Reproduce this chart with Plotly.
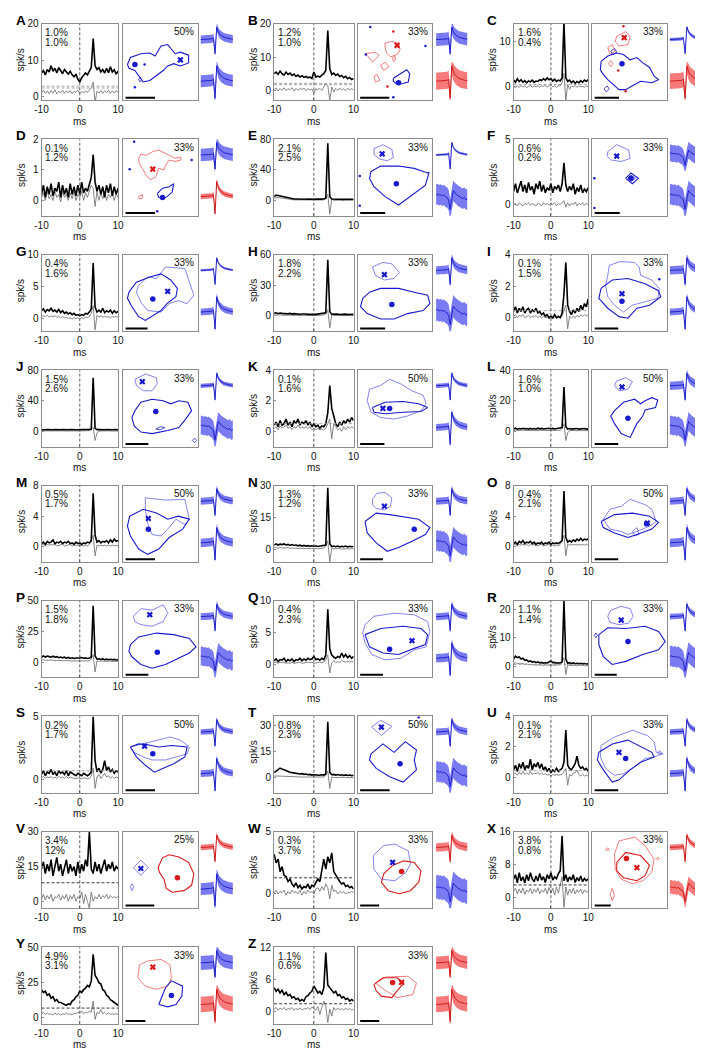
import plotly.graph_objects as go

W, H = 703, 1050

# ---------------- data ----------------
panel_labels = list("ABCDEFGHIJKLMNOPQRSTUVWXYZ")
lag_ms = [-10.0, -9.5, -9.0, -8.5, -8.0, -7.5, -7.0, -6.5, -6.0, -5.5, -5.0, -4.5, -4.0, -3.5,
          -3.0, -2.5, -2.0, -1.5, -1.0, -0.5, 0.0, 0.5, 1.0, 1.5, 2.0, 2.5, 3.0, 3.5, 4.0, 4.5,
          5.0, 5.5, 6.0, 6.5, 7.0, 7.5, 8.0, 8.5, 9.0, 9.5, 10.0]

ccg_A = [6.5,7.2,6.0,7.5,6.8,8.5,7.0,7.8,6.5,8.0,7.2,6.3,7.5,6.8,6.2,7.0,6.0,5.5,6.2,4.8,4.0,5.2,5.8,6.5,6.0,7.0,8.0,16.0,8.5,7.5,8.0,6.8,7.5,6.5,7.8,6.6,8.2,6.8,7.4,6.2,7.0]
null_A = [1.0,1.8,0.9,1.6,0.8,1.7,1.0,1.9,0.8,1.5,1.1,1.8,0.9,1.6,1.0,1.7,0.8,1.5,1.2,1.8,0.9,1.4,1.0,1.6,1.2,1.8,2.5,4.0,-1.5,1.5,1.0,1.7,0.9,1.6,1.1,1.8,0.9,1.6,1.0,1.7,1.2]
ccg_B = [5.0,5.5,4.8,5.8,5.0,4.6,5.5,4.8,5.2,4.5,4.9,4.2,4.6,4.0,4.4,3.9,4.2,3.8,4.0,3.6,5.5,4.0,4.3,4.0,4.6,5.0,6.0,18.0,6.5,4.8,5.2,4.5,4.9,4.2,4.5,3.8,4.2,3.5,3.9,3.3,3.6]
null_B = [0.2,0.7,-0.2,0.6,0.0,0.8,-0.1,0.5,0.2,0.8,-0.2,0.6,0.0,0.5,0.3,0.7,-0.1,0.6,0.1,0.4,-0.8,0.5,0.2,0.6,0.0,1.0,2.0,1.5,-3.0,1.0,-0.5,0.6,0.0,0.7,0.1,0.5,-0.1,0.6,0.2,0.5,0.1]
ccg_C = [1.5,1.0,1.8,1.2,1.6,1.0,1.4,0.9,1.3,1.1,1.5,1.0,1.3,1.2,1.6,1.4,1.8,1.5,2.0,1.6,1.8,1.3,1.7,1.2,1.5,1.3,2.0,14.5,2.0,1.2,1.5,0.9,1.3,0.8,1.2,0.9,1.4,1.0,1.5,1.2,1.6]
null_C = [0.1,-0.2,0.2,-0.1,0.3,0.0,0.2,-0.2,0.1,0.3,-0.1,0.2,0.0,0.3,-0.1,0.2,0.1,0.3,0.0,0.2,0.4,0.0,0.2,-0.1,0.3,0.2,1.0,3.0,-3.0,0.5,-0.5,0.2,0.0,0.3,-0.1,0.2,0.0,0.1,-0.1,0.2,0.0]
ccg_D = [0.2,0.5,0.1,0.45,0.2,0.55,0.15,0.4,0.3,0.6,0.1,0.5,0.2,0.4,0.1,0.55,0.2,0.45,0.15,0.5,0.2,0.6,0.25,0.4,0.3,0.55,0.75,1.5,0.6,0.3,0.5,0.2,0.45,0.1,0.5,0.25,0.55,0.15,0.45,0.2,0.4]
null_D = [0.1,0.25,0.0,0.3,0.05,0.2,0.0,0.3,0.1,0.2,-0.05,0.3,0.1,0.2,0.0,0.25,0.05,0.3,0.0,0.2,0.1,0.3,0.0,0.25,0.1,0.35,0.5,0.4,-0.2,0.3,0.0,0.25,0.05,0.3,0.0,0.2,0.1,0.25,0.0,0.2,0.1]
ccg_E = [5,7,6.5,6,5,4,3.5,3,2.5,2.5,2,2,1.8,2,1.5,1.8,1.5,1.8,1.5,1.7,1.5,1.8,1.5,2,1.8,2.2,3,75,5,2,1.8,1.5,1.8,1.5,1.6,1.4,1.6,1.4,1.5,1.3,1.5]
null_E = [3,4,4,3.5,3,2.5,2,1.5,1.2,1,0.8,0.8,0.7,0.8,0.6,0.7,0.6,0.7,0.5,0.6,0.5,0.6,0.5,0.6,0.5,0.8,2,8,-18,2,0.2,0.5,0.4,0.5,0.3,0.4,0.3,0.4,0.3,0.4,0.3]
ccg_F = [1.0,1.6,0.9,1.4,1.8,1.0,1.5,0.9,1.7,1.1,1.4,0.8,1.6,1.2,1.8,1.0,1.5,0.9,1.3,1.1,1.6,0.9,1.4,1.2,1.5,1.0,1.6,3.2,1.5,1.0,1.4,1.1,1.6,0.8,1.3,1.0,1.5,0.9,1.2,1.0,1.3]
null_F = [0.0,0.1,-0.1,0.15,0.0,-0.1,0.1,0.0,0.15,-0.05,0.1,0.0,-0.1,0.1,0.05,-0.1,0.15,0.0,0.1,-0.05,0.1,0.0,0.15,-0.1,0.1,0.0,0.2,0.3,-0.2,0.15,-0.1,0.1,0.0,0.2,-0.1,0.1,0.0,0.15,-0.05,0.1,0.0]
ccg_G = [1.2,1.5,1.0,1.4,1.2,1.6,1.1,1.3,1.0,1.4,0.9,1.2,0.8,1.0,0.7,0.9,0.6,0.8,0.5,0.6,0.4,0.6,0.5,0.8,0.7,1.0,1.5,8.7,1.8,1.0,1.3,1.0,1.6,0.9,1.2,1.0,1.3,0.8,1.2,0.9,1.1]
null_G = [0.3,0.4,0.3,0.5,0.2,0.4,0.3,0.4,0.2,0.3,0.1,0.3,0.1,0.2,0.0,0.1,-0.1,0.1,0.0,0.1,-0.1,0.1,0.0,0.2,0.1,0.3,0.8,2.0,-1.8,0.5,0.2,0.4,0.2,0.3,0.2,0.3,0.1,0.3,0.2,0.3,0.2]
ccg_H = [2.5,3,2.2,2.8,2.5,2.2,2.6,2,2.4,1.8,2.2,1.8,2,1.6,1.9,1.5,1.8,1.5,1.7,1.4,1.6,1.5,1.8,1.5,1.9,2,3,55,4,1.6,1.8,1.4,1.7,1.3,1.6,1.4,1.7,1.3,1.6,1.4,1.5]
null_H = [0.8,1,0.8,1,0.7,0.8,0.6,0.8,0.5,0.7,0.5,0.6,0.4,0.6,0.4,0.5,0.3,0.5,0.3,0.4,0.3,0.5,0.3,0.5,0.4,0.8,2,6,-12,1.5,0.3,0.5,0.3,0.4,0.3,0.4,0.2,0.4,0.3,0.4,0.3]
ccg_I = [0.4,0.7,0.3,0.6,0.4,0.7,0.3,0.5,0.6,0.3,0.5,0.4,0.6,0.3,0.4,0.2,0.3,0.1,0.2,0.0,0.1,0.0,0.2,0.0,0.1,0.0,0.3,1.5,3.5,0.8,0.4,0.2,0.5,0.3,0.6,0.4,0.8,0.5,0.9,0.7,1.2]
null_I = [0.1,0.2,0.0,0.15,0.1,0.2,0.0,0.1,0.15,0.0,0.1,0.05,0.15,0.0,0.1,0.0,0.1,0.0,0.05,-0.05,0.0,-0.05,0.05,0.0,0.0,0.05,0.1,0.5,0.8,-0.7,0.1,0.0,0.1,0.0,0.15,0.05,0.2,0.1,0.2,0.1,0.2]
ccg_J = [2,2.5,2,2.4,2.1,2.5,2,2.3,2,2.4,2,2.2,1.9,2.3,2,2.2,1.9,2.2,2,2.1,2,2.2,2,2.3,2.1,2.5,3,70,4,2.2,2.3,2,2.4,2,2.2,1.9,2.3,2,2.2,1.9,2.1]
null_J = [0.5,0.7,0.5,0.6,0.4,0.6,0.5,0.7,0.4,0.6,0.5,0.6,0.4,0.6,0.5,0.6,0.4,0.5,0.4,0.5,0.4,0.6,0.4,0.5,0.4,0.8,2,5,-12,-2,0.4,0.6,0.4,0.5,0.4,0.6,0.4,0.5,0.4,0.5,0.4]
ccg_K = [0.4,0.6,0.3,0.7,0.4,0.5,0.8,0.4,0.6,0.3,0.7,0.5,0.8,0.4,0.6,0.5,0.7,0.4,0.6,0.3,0.5,0.3,0.4,0.2,0.35,0.3,0.5,1.2,3.0,1.5,1.0,0.5,0.3,0.6,0.4,0.7,0.5,0.8,0.6,0.9,0.7]
null_K = [0.2,0.3,0.1,0.35,0.2,0.3,0.4,0.2,0.3,0.1,0.3,0.2,0.4,0.2,0.3,0.2,0.3,0.2,0.3,0.1,0.2,0.1,0.2,0.1,0.15,0.1,0.2,0.5,0.8,-0.5,0.5,0.3,0.1,0.2,0.0,0.3,0.1,0.3,0.2,0.3,0.2]
ccg_L = [1.5,2,1.4,1.8,1.5,2,1.6,1.8,1.4,1.9,1.5,1.8,1.4,2,1.6,1.9,1.5,1.8,1.6,2,1.7,1.9,1.5,1.8,1.6,2,2.5,29,3,1.5,1.8,1.4,1.7,1.5,1.8,1.4,1.7,1.5,1.8,1.4,1.6]
null_L = [0.5,0.8,0.4,0.7,0.5,0.8,0.5,0.6,0.4,0.7,0.5,0.6,0.4,0.7,0.5,0.6,0.4,0.6,0.5,0.7,0.5,0.6,0.4,0.6,0.5,0.8,2,5,-6,-1,0.5,0.6,0.4,0.5,0.4,0.6,0.4,0.5,0.4,0.5,0.4]
ccg_M = [0.4,0.6,0.3,0.7,0.5,0.6,0.9,0.4,0.6,0.5,0.7,0.4,0.6,0.5,0.7,0.4,0.5,0.3,0.6,0.4,0.5,0.3,0.5,0.4,0.6,0.5,0.8,7.0,1.5,0.6,0.8,0.5,0.7,0.6,0.8,0.5,0.9,0.6,1.0,0.7,0.8]
null_M = [0.2,0.3,0.1,0.3,0.2,0.3,0.2,0.3,0.1,0.2,0.2,0.3,0.1,0.2,0.2,0.3,0.1,0.2,0.1,0.2,0.1,0.2,0.1,0.2,0.1,0.3,0.8,1.5,-1.2,0.2,0.1,0.2,0.1,0.2,0.1,0.2,0.1,0.2,0.1,0.2,0.1]
ccg_N = [2,2.5,2,2.4,2.2,2.5,2,2.3,1.8,2.2,1.8,2,1.6,1.9,1.5,1.8,1.5,1.7,1.4,1.6,1.3,1.6,1.3,1.5,1.4,1.6,2,29,2.5,1.3,1.5,1.2,1.5,1.1,1.4,1.2,1.5,1.1,1.4,1.2,1.3]
null_N = [0.6,0.8,0.5,0.8,0.6,0.7,0.5,0.7,0.4,0.6,0.4,0.6,0.3,0.5,0.3,0.5,0.3,0.4,0.2,0.4,0.2,0.4,0.2,0.4,0.3,0.6,1.5,4,-6,0.5,0.2,0.3,0.2,0.3,0.1,0.3,0.2,0.3,0.1,0.3,0.2]
ccg_O = [0.4,0.6,0.3,0.7,0.5,0.8,0.4,0.6,0.5,0.7,0.4,0.6,0.3,0.5,0.4,0.6,0.3,0.5,0.4,0.6,0.3,0.5,0.4,0.5,0.4,0.6,0.8,7.3,1.2,0.6,0.8,0.6,0.9,0.7,1.0,0.8,1.1,0.8,1.0,0.9,1.0]
null_O = [0.2,0.3,0.1,0.3,0.2,0.3,0.2,0.3,0.1,0.3,0.2,0.3,0.1,0.2,0.2,0.3,0.1,0.2,0.2,0.3,0.1,0.2,0.1,0.2,0.1,0.3,0.8,1.5,-1.2,0.3,0.2,0.3,0.2,0.3,0.2,0.3,0.2,0.3,0.2,0.3,0.2]
ccg_P = [4,5,4.2,5,4.5,4,4.8,4,4.5,3.6,4.2,3.5,4,3.2,3.8,3,3.5,3,3.4,3.2,3.5,3.8,3.2,3.5,3,3.4,4,46,5,2.5,2.8,2.2,2.6,2,2.4,2,2.3,1.9,2.2,1.8,2]
null_P = [1.5,2,1.5,1.8,1.5,1.7,1.4,1.6,1.2,1.5,1.2,1.4,1,1.3,1,1.2,0.9,1.1,0.9,1,0.9,1.1,0.9,1,0.9,1.2,2.5,6,-8,1,0.6,0.9,0.6,0.8,0.5,0.8,0.5,0.7,0.5,0.7,0.5]
ccg_Q = [0.6,0.9,0.5,0.8,0.7,1.0,0.5,0.8,0.6,0.9,0.5,0.8,0.7,1.0,0.6,0.9,0.7,1.0,0.8,0.9,1.3,0.8,0.9,0.7,1.0,0.8,1.5,8.7,2.5,1.5,1.2,1.0,1.3,1.1,1.8,1.2,1.6,1.1,1.4,1.0,1.3]
null_Q = [0.3,0.4,0.2,0.4,0.3,0.4,0.2,0.3,0.2,0.4,0.2,0.3,0.3,0.4,0.2,0.3,0.3,0.4,0.3,0.4,0.2,0.3,0.3,0.4,0.3,0.4,0.8,1.5,-1.3,0.3,0.6,0.3,0.5,0.3,0.6,0.5,0.4,0.5,0.4,0.5,0.4]
ccg_R = [2.5,3.5,3,3.2,2.5,2.8,2,2.2,1.6,1.8,1.4,1.6,1.2,1.5,1.1,1.3,1.0,1.2,1.1,1.5,1.8,1.2,1.3,1.0,1.2,1.1,1.5,23,2.5,1.0,1.2,0.9,1.1,0.8,1.0,0.8,1.0,0.8,0.9,0.7,0.8]
null_R = [0.8,1.2,0.9,1,0.8,0.9,0.6,0.8,0.5,0.6,0.4,0.5,0.3,0.5,0.3,0.4,0.2,0.4,0.3,0.4,0.3,0.4,0.3,0.4,0.3,0.5,1.2,3,-3,0.5,0.2,0.3,0.2,0.3,0.1,0.3,0.2,0.3,0.1,0.2,0.2]
ccg_S = [0.4,0.7,0.3,0.6,0.5,0.8,0.4,0.6,0.3,0.7,0.5,0.6,0.4,0.7,0.3,0.6,0.5,0.4,0.3,0.5,0.4,0.3,0.5,0.4,0.3,0.4,0.6,5.0,1.5,0.6,0.9,0.5,0.8,1.5,0.7,1.0,0.6,0.8,0.5,0.7,0.6]
null_S = [0.15,0.25,0.1,0.2,0.15,0.25,0.1,0.2,0.1,0.25,0.15,0.2,0.1,0.25,0.1,0.2,0.15,0.1,0.05,0.15,0.1,0.05,0.15,0.1,0.05,0.1,0.3,0.9,-0.7,0.2,0.4,0.1,0.3,0.5,0.2,0.3,0.1,0.25,0.1,0.2,0.15]
ccg_T = [3,4,5,5.5,5,4.5,4,3.5,3.2,3,2.8,2.5,2.6,2.2,2.4,2,2.2,1.8,2,1.6,1.8,1.6,1.8,1.5,1.8,1.6,2.2,32,3,1.8,2,1.6,1.9,1.5,1.8,1.4,1.7,1.4,1.6,1.3,1.5]
null_T = [1,1.2,1.1,1,1,0.9,0.9,0.8,0.8,0.7,0.7,0.6,0.6,0.5,0.5,0.5,0.4,0.4,0.4,0.3,0.3,0.3,0.3,0.3,0.3,0.5,1.5,4,-6,0.5,0.2,0.3,0.2,0.3,0.2,0.3,0.2,0.3,0.2,0.3,0.2]
ccg_U = [0.5,0.8,0.4,0.9,0.6,1.0,0.5,0.8,0.6,1.2,0.5,0.9,0.7,1.0,0.6,0.9,0.5,0.7,0.4,0.6,0.3,0.5,0.4,0.6,0.4,0.5,0.6,1.0,3.1,0.8,0.6,0.5,0.7,0.9,1.4,0.8,0.6,0.7,0.5,0.6,0.4]
null_U = [0.2,0.3,0.15,0.35,0.2,0.4,0.2,0.3,0.2,0.4,0.2,0.3,0.25,0.35,0.2,0.3,0.2,0.25,0.15,0.2,0.1,0.2,0.15,0.2,0.15,0.2,0.2,0.4,0.6,-0.5,0.2,0.1,0.3,0.3,0.5,0.2,0.1,0.2,0.1,0.15,0.1]
ccg_V = [14,17,12,16,13,18,11,15,19,13,16,11,14,18,12,16,13,15,11,17,12,16,13,18,15,30,14,12,17,13,16,12,15,18,13,16,14,17,13,15,14]
null_V = [1,3,0.5,2.5,1,3,0,2,1.5,3,0.5,2.5,1,3,0,2.5,1,3,0,2,1,4,-1,3,0,-3,4,0,2,1,3,1,2.5,1.5,3,1,2.5,1.5,2,1.5,2]
ccg_W = [3.2,2.5,2.8,1.8,2.2,1.5,1.4,1.0,1.2,0.8,0.6,0.9,0.5,0.7,0.4,0.6,0.5,0.8,0.4,0.7,0.6,0.9,1.2,1.0,1.8,2.8,2.0,3.0,2.5,3.3,1.8,1.5,1.2,1.0,0.8,0.9,0.6,0.7,0.5,0.6,0.4]
null_W = [0.1,0.3,0.0,0.2,0.1,0.3,-0.1,0.2,0.0,0.3,0.1,0.2,0.0,0.3,-0.1,0.2,0.0,0.3,0.1,0.2,0.0,0.4,0.5,0.2,0.6,0.3,0.8,0.5,-0.4,0.7,0.2,0.3,0.0,0.2,0.1,0.2,0.0,0.1,0.1,0.2,0.1]
ccg_X = [4.5,5.5,3.5,6,4,5,3.5,5.5,4,6,4.5,3.8,5.2,4,5.8,4.2,5,3.6,5.5,4.5,6,4.2,5,4.5,5.8,6.5,15,4,5.5,3.8,5,4.2,5.5,3.6,4.8,4,5.2,3.8,4.6,4,4.5]
null_X = [1.5,2.2,0.8,2,1,2.3,0.7,1.8,1.2,2.2,0.8,2,1.2,2.3,0.8,1.8,1.2,2.2,0.8,2.4,1,2.2,0.5,2.5,1,3,5,-2.5,2.5,0.5,2,1,2.2,0.8,1.8,1.2,2,0.8,1.8,1.2,1.5]
ccg_Y = [20,18,19,16,17,14,15,12,13,11,11,10,9.5,9,10,9.5,12,13,15,16,19,18,20,21,23,22,26,45,30,28,25,24,20,19,16,15,13,12,11,10,9]
null_Y = [3,4,2.5,3.5,2.5,3,2,3.5,2.5,3,2,3,2.5,3.5,2.5,3,2,3.5,3,4,3.5,5,3,4,3.5,5,4,12,-1,4,3,6,3,4,2.5,3.5,2.5,3,2.5,3,2.5]
ccg_Z = [4.5,3.8,4.2,3.5,4,3.2,3.6,3,3.2,2.6,2.8,2.3,2.5,2.0,2.3,2.0,2.8,3.0,3.5,3.8,4.8,4.0,3.5,3.8,3.2,4.5,11,5,4.5,4,3.5,3.8,3,3.2,2.6,2.8,2.3,2.5,2.0,2.3,2.0]
null_Z = [0.5,0.8,0.3,0.7,0.4,0.8,0.3,0.6,0.5,0.8,0.3,0.6,0.4,0.7,0.3,0.6,0.5,0.8,0.4,0.9,0.6,0.3,1.0,-0.5,0.8,2.0,1.0,-2.0,0.5,-0.8,0.8,0.3,0.7,0.4,0.6,0.3,0.7,0.4,0.6,0.3,0.5]

y_lo = [-1, -3, -3, -0.5, -20, -0.85, -2, -15, -0.85, -20, -1, -10, -2, -6, -2, -12.5, -2, -4, -1.05, -8.5, -1, -3, -1.15, -2.7, -4, -2.2]
y_hi = [20, 20, 14, 2, 80, 5, 10, 60, 4, 80, 4, 40, 8, 30, 8, 50, 10, 23, 5, 35, 4, 30, 5, 16, 50, 12]
y_ticks = [[0,10,20],[0,10,20],[0,10],[0,1,2],[0,40,80],[0,5],[0,5,10],[0,30,60],[0,2,4],[0,40,80],
           [0,2,4],[0,20,40],[0,4,8],[0,15,30],[0,4,8],[0,25,50],[0,5,10],[0,10,20],[0,5],[0,15,30],
           [0,2,4],[0,15,30],[0,5],[0,8,16],[0,25,50],[0,6,12]]
hline_levels = [[2.4,2.9],[1.7,2.1],[0.5],[],[],[],[],[],[0.45],[],[0.5],[],[],[],[],[],[],[0.6],[0.7],[],
                [0.45],[8],[1.3],[3],[7],[1.5]]

pct_top = ["1.0%","1.2%","1.6%","0.1%","2.1%","0.6%","0.4%","1.8%","0.1%","1.5%","0.1%","1.6%","0.5%",
           "1.3%","0.4%","1.5%","0.4%","1.1%","0.2%","0.8%","0.1%","3.4%","0.3%","3.8%","4.9%","1.1%"]
pct_bot = ["1.0%","1.0%","0.4%","1.2%","2.5%","0.2%","1.6%","2.2%","1.5%","2.6%","1.6%","1.0%","1.7%",
           "1.2%","2.1%","1.8%","2.3%","1.4%","1.7%","2.3%","2.1%","12%","3.7%","0.8%","3.1%","0.6%"]
rf_pct = ["50%","33%","33%","33%","33%","33%","33%","33%","33%","33%","50%","50%","50%","33%","50%",
          "33%","33%","33%","50%","50%","33%","25%","33%","33%","33%","33%"]

# receptive-field contours (x-cell = cell marked 'x', d-cell = cell marked with a dot)
cell_x_col = "brrr" + "b" * 17 + "bb" + "rrr"
cell_d_col = "bbbb" + "b" * 17 + "rrr" + "br"

rfx_A = [[], []]
rfd_A = [[0.6,1.0,2.4,3.6,4.3,5.1,6.0,6.5,7.0,7.7,8.8,8.8,7.7,6.8,6.0,5.4,4.5,3.6,2.7,2.1,1.6,0.8],
         [4.7,5.6,6.1,6.2,5.8,7.1,7.3,6.7,6.1,6.3,5.9,4.9,4.5,4.8,4.5,3.9,3.2,2.6,2.4,3.2,3.9,4.2]]
rfx_B = [[3.7,4.4,5.5,5.7,5.3,4.4,3.9,3.7],[7.5,7.7,7.5,6.6,6.0,5.7,6.2,6.8]]
rfd_B = [[4.8,5.7,6.6,7.0,6.8,6.1,5.3,4.8],[2.9,3.5,4.0,3.5,2.4,2.2,2.1,2.5]]
rfx_C = [[3.3,4.5,5.1,4.8,3.6,3.1],[8.4,9.0,8.4,7.3,7.1,7.7]]
rfd_C = [[1.2,2.1,3.3,4.2,5.1,6.0,6.8,7.7,8.3,8.9,8.0,6.5,5.4,4.5,3.6,3.0,2.1,1.5,1.1],
         [5.1,5.8,6.2,6.0,5.3,5.6,4.9,4.3,3.2,2.7,2.3,2.5,1.9,1.4,1.4,1.9,2.7,3.4,4.0]]
rfx_D = [[2.1,2.4,3.1,4.0,4.8,5.9,6.6,7.0,7.7,7.8,7.0,6.2,5.7,5.5,4.8,4.4,3.7,3.1,2.6,2.2],
         [7.5,8.1,7.9,8.4,8.6,8.1,7.7,7.5,7.7,7.3,7.1,7.3,6.6,6.0,6.2,5.1,4.7,5.3,6.2,6.8]]
rfd_D = [[4.6,5.3,6.2,6.8,6.6,5.9,5.3,4.8],[2.9,3.6,3.8,4.2,3.1,2.5,2.2,2.4]]
rfx_E = [[2.2,3.4,4.6,4.8,4.0,3.0,2.2],[8.8,9.3,8.7,7.6,7.2,7.4,8.0]]
rfd_E = [[1.8,3.1,5.5,7.6,9.4,9.6,9.1,7.3,5.5,3.7,2.2,1.6],[5.8,6.5,6.5,6.2,5.6,5.7,4.0,2.7,1.4,2.5,3.8,4.9]]
rfx_F = [[2.1,3.3,4.9,5.1,3.9,2.5,2.0],[8.4,9.3,8.6,7.5,7.1,7.3,7.8]]
rfd_F = [[4.5,5.2,6.2,5.4],[4.9,5.6,4.9,4.2]]
rfx_G = [[2.1,3.3,4.5,5.7,8.3,8.9,9.5,8.6,7.4,6.2,5.1,3.3,2.4,1.8],[6.0,7.1,6.9,8.4,8.2,6.4,4.7,3.6,4.0,3.6,2.5,2.7,3.8,5.1]]
rfd_G = [[0.8,1.8,3.6,5.1,6.4,7.3,7.1,5.9,5.1,3.9,3.0,2.1,1.2,0.6],[5.1,6.4,7.1,7.5,6.7,5.6,4.5,3.6,2.7,1.9,1.4,1.9,3.2,4.3]]
rfx_H = [[2.0,3.4,4.6,5.6,4.9,3.6,2.4],[8.4,9.0,8.8,7.7,6.9,6.7,7.3]]
rfd_H = [[0.7,1.6,3.1,5.5,7.6,9.4,9.7,8.8,6.7,4.9,3.1,1.3,0.4],[4.3,5.1,5.6,5.6,5.1,4.7,3.6,2.7,2.3,1.6,1.6,2.3,3.2]]
rfx_I = [[2.1,2.3,3.7,5.7,6.3,6.5,8.0,9.0,8.8,7.1,5.4,4.2,3.0,2.1,1.8],[7.3,8.6,9.1,9.0,8.4,7.3,6.7,5.6,4.3,3.8,3.4,2.5,3.4,4.5,6.0]]
rfd_I = [[1.2,2.7,4.8,7.1,8.9,9.2,7.7,6.0,4.8,3.6,2.1,0.9],[5.6,6.7,6.9,6.2,5.3,4.5,3.4,3.0,1.7,1.9,3.0,4.3]]
rfx_J = [[1.6,3.0,4.5,4.6,3.9,2.7,1.8],[8.8,9.5,9.0,8.2,7.3,7.3,8.0]]
rfd_J = [[1.6,2.4,3.9,5.4,6.4,7.5,8.7,9.2,8.4,7.5,6.0,3.9,2.4,1.5,1.2],[4.7,5.8,6.2,6.0,5.6,6.0,5.8,4.7,3.6,2.5,2.1,1.7,1.9,2.7,3.8]]
rfx_K = [[1.3,1.6,3.1,4.3,5.8,7.3,8.8,9.2,8.5,6.7,4.9,3.1,1.8],[6.0,7.5,8.0,8.8,8.2,7.3,6.7,5.6,4.7,4.0,3.6,3.8,4.5]]
rfd_K = [[2.0,3.7,6.1,8.2,9.4,8.5,6.1,3.7,2.2],[5.1,5.8,5.9,5.6,5.1,4.6,4.5,4.3,4.5]]
rfx_L = [[3.3,4.5,5.4,4.8,3.6,3.0],[8.6,9.0,8.5,7.5,7.3,8.0]]
rfd_L = [[3.0,4.2,5.7,6.5,7.1,8.0,8.8,8.5,7.1,6.8,6.0,5.1,3.9,3.0,2.5],[4.7,5.8,6.2,5.6,6.0,6.4,6.1,5.1,4.8,4.0,3.0,1.2,1.7,3.0,4.0]]
rfx_M = [[3.0,5.7,8.3,8.9,8.3,7.1,6.0,5.1,3.9,3.3,3.0],[8.4,8.1,8.2,5.6,4.9,5.6,4.3,3.4,3.6,5.1,6.9]]
rfd_M = [[0.9,2.7,4.5,6.0,7.4,8.9,8.0,6.2,4.8,3.3,2.1,1.0,0.6],[6.0,6.9,6.4,5.6,6.0,5.6,4.3,3.2,1.7,1.0,1.7,3.4,4.7]]
rfx_N = [[2.0,2.6,3.7,4.6,4.4,3.6,2.5,2.0],[8.2,9.0,9.1,8.4,7.3,6.8,7.0,7.5]]
rfd_N = [[1.0,2.5,4.3,6.1,8.2,9.7,9.1,7.3,5.5,4.0,2.5,1.3],[5.3,6.4,6.2,5.9,5.6,4.5,3.6,2.7,1.9,1.4,2.5,3.8]]
rfx_O = [[1.5,2.4,3.9,5.1,7.1,8.0,8.6,7.7,6.0,4.8,3.9,2.4],[5.6,6.9,7.3,8.2,7.5,6.9,5.3,4.7,4.0,3.6,4.0,4.3]]
rfd_O = [[1.2,3.0,5.4,7.7,8.9,8.0,6.0,4.8,3.0,1.5],[5.3,6.2,6.4,6.0,5.2,4.3,3.6,3.2,3.8,4.5]]
rfx_P = [[1.4,2.4,3.9,5.4,6.0,5.4,3.9,2.4,1.6],[8.0,9.0,8.8,9.5,8.5,7.3,6.7,6.9,7.3]]
rfd_P = [[1.0,2.1,4.5,6.8,8.9,9.8,8.9,7.4,5.7,3.9,2.4,1.2,0.8],[4.3,5.3,5.8,5.6,5.1,4.0,3.2,2.5,1.7,1.2,1.7,2.7,3.4]]
rfx_Q = [[1.0,2.2,4.9,7.6,9.4,9.7,9.2,7.6,5.8,3.7,1.9,1.0,0.7],[6.9,8.0,8.4,8.2,7.3,6.0,4.0,3.6,2.5,2.3,3.0,4.5,5.8]]
rfd_Q = [[1.0,3.1,6.1,8.5,9.4,9.1,7.6,5.5,3.4,1.6],[5.6,6.4,6.7,6.4,5.6,4.3,3.8,3.0,3.2,4.0]]
rfx_R = [[2.1,2.5,3.9,5.1,5.5,4.9,3.6,2.4],[8.0,8.8,9.3,9.0,8.0,7.1,6.9,7.2]]
rfd_R = [[0.9,2.1,4.5,7.1,8.9,9.8,8.9,6.8,4.5,2.7,1.5,0.9],[5.6,6.5,6.4,6.7,6.0,4.7,3.6,3.0,2.1,1.7,2.7,4.3]]
rfx_S = [[1.0,2.7,4.5,6.3,7.7,8.9,8.6,7.1,5.7,3.9,2.7,1.5],[6.0,6.4,6.9,7.3,6.9,6.0,5.1,4.7,4.3,4.3,4.7,5.3]]
rfd_S = [[1.0,2.1,3.3,4.8,6.5,8.6,8.3,6.8,5.4,4.2,3.0,1.8],[6.0,6.4,6.3,6.0,6.2,6.0,4.7,3.8,3.2,2.7,3.6,4.7]]
rfx_T = [[1.9,3.1,4.6,3.2],[8.6,9.5,8.7,7.5]]
rfd_T = [[1.8,3.4,4.9,6.4,7.9,7.6,7.9,6.1,4.3,2.5,1.6],[5.1,6.4,5.3,6.7,5.6,4.3,3.0,1.4,2.1,3.2,4.3]]
rfx_U = [[1.2,3.0,5.4,7.4,8.3,8.6,9.5,8.3,7.1,6.0,4.2,3.0,1.8,1.1],[6.2,7.3,8.2,7.5,6.7,5.3,5.1,4.7,4.5,3.6,2.5,2.3,3.2,4.7]]
rfd_U = [[0.9,2.7,4.8,6.5,8.0,8.3,6.5,5.1,3.6,2.7,1.5,0.7],[5.3,6.4,6.9,6.0,5.3,4.7,4.0,3.0,1.7,1.4,3.0,4.3]]
rfx_V = [[1.4,2.4,3.4,2.4],[5.3,6.3,5.3,4.3]]
rfd_V = [[4.7,5.3,6.2,7.5,8.8,9.5,9.2,8.2,6.6,5.8,5.5,4.9],[5.3,6.6,7.0,6.7,6.0,4.5,3.0,2.3,2.1,2.6,3.8,4.7]]
rfx_W = [[2.1,3.5,5.0,6.8,7.1,6.5,5.0,3.2,2.2],[6.9,8.2,8.4,7.5,5.8,4.7,3.6,3.8,5.1]]
rfd_W = [[3.5,4.7,6.2,7.6,8.5,8.2,7.1,5.6,4.1,3.2],[4.5,5.6,6.2,6.0,4.9,3.4,2.3,1.9,2.3,3.4]]
rfx_X = [[3.0,3.6,5.7,7.1,8.3,8.0,6.8,5.4,3.9,3.1],[7.1,8.8,9.3,8.2,6.4,4.7,3.6,3.2,3.8,5.1]]
rfd_X = [[3.3,4.5,6.5,7.7,7.1,6.0,4.2,3.3],[6.0,7.3,6.9,5.6,4.3,3.6,4.0,4.9]]
rfx_Y = [[2.2,3.3,5.1,6.3,6.5,6.0,4.5,3.0,2.0],[7.7,8.2,8.4,7.7,6.0,4.9,4.5,4.9,6.0]]
rfd_Y = [[4.8,5.7,6.5,8.0,7.9,7.1,6.0],[2.5,4.7,5.6,4.9,3.6,2.5,2.2]]
rfx_Z = [[2.4,3.8,6.8,7.9,7.4,5.3,3.8],[5.3,6.1,6.2,5.3,3.8,3.4,4.3]]
rfd_Z = [[2.2,3.4,5.3,6.2,5.3,4.6,3.2,2.5],[5.1,6.0,6.0,5.3,4.3,3.4,3.6,4.3]]

# extra small contour fragments: (cell, xs, ys)
blobs = {
    "A": [("d", [2.1,2.3,2.5,2.3], [2.7,3.0,2.7,2.4])],
    "B": [("x", [1.1,2.4,2.9,2.0], [6.1,6.3,5.9,5.0]), ("x", [3.1,3.7,4.2,3.5], [4.6,5.0,4.4,3.9]),
          ("x", [2.2,2.6,3.0,2.4], [3.1,3.4,2.6,2.4]), ("x", [4.7,5.0,5.1,4.8], [5.6,5.8,5.3,5.1])],
    "C": [("x", [2.1,2.7,3.1,2.4], [6.9,7.3,6.4,6.0]), ("x", [2.2,2.5,2.8,2.5], [4.8,5.2,4.8,4.4]),
          ("d", [1.6,2.0,2.3,1.9], [1.5,1.9,1.5,1.1]), ("d", [2.5,3.0,3.3,2.8], [6.4,6.8,6.3,6.0])],
    "D": [("x", [2.1,2.6,2.6,2.2], [2.5,2.8,2.3,2.2])],
    "F": [("d", [4.8,5.2,5.8,5.3], [4.9,5.3,4.9,4.5])],
    "J": [("d", [4.4,5.0,5.6,5.0], [2.3,2.6,2.5,2.2]), ("d", [9.3,9.6,9.9,9.6], [0.8,1.1,0.8,0.5])],
    "O": [("x", [5.4,6.0,6.3,5.7], [4.0,4.5,3.6,3.4])],
    "R": [("d", [0.3,0.5,0.7,0.5], [5.5,5.8,5.5,5.2])],
    "U": [("x", [8.8,9.1,9.3,9.0], [5.3,5.5,5.2,5.0])],
    "V": [("x", [1.0,1.2,1.5,1.2], [2.8,3.2,2.8,2.3])],
    "X": [("x", [2.4,2.7,3.0,2.7], [1.9,2.6,1.7,1.0]), ("x", [1.8,2.1,2.3,2.1], [7.7,7.9,7.7,7.5]),
          ("x", [8.6,8.8,9.0,8.8], [6.5,6.7,6.5,6.3])],
}
specks = {
    "A": [("d", 2.9, 4.7), ("d", 1.6, 1.7)],
    "B": [("x", 4.8, 9.0), ("x", 4.0, 1.8), ("d", 1.7, 9.6), ("d", 9.1, 7.1), ("d", 1.1, 6.0), ("d", 4.8, 0.4)],
    "C": [("x", 4.2, 9.7), ("x", 3.5, 3.9), ("x", 4.5, 1.2)],
    "D": [("d", 1.5, 9.7), ("d", 0.9, 6.1), ("d", 9.2, 7.3), ("d", 4.6, 0.6)],
    "E": [("d", 0.3, 5.2), ("d", 0.3, 1.3)],
    "F": [("d", 0.3, 4.9), ("d", 0.3, 1.0)],
    "I": [("x", 9.0, 6.8)],
    "T": [("d", 8.2, 9.9)],
}

mkx_x = [7.7,5.3,4.3,4.0,3.3,3.3,6.0,3.6,4.0,2.6,3.4,4.0,3.4,3.6,7.4,3.6,7.3,3.9,2.9,3.2,3.6,2.4,4.7,6.0,4.0,5.9]
mkx_y = [5.3,7.2,8.2,6.1,8.1,7.8,5.2,7.4,4.9,8.5,5.0,7.8,5.7,7.3,5.1,8.2,4.8,7.5,6.1,8.6,5.3,5.2,6.0,5.3,7.4,5.4]
mkd_x = [1.6,5.5,4.0,5.3,5.2,5.2,4.0,4.6,4.0,4.4,4.3,4.8,3.4,7.6,7.3,4.6,4.3,4.8,4.0,5.7,4.5,7.3,5.9,4.6,6.5,4.7]
mkd_y = [4.7,2.3,4.8,2.4,4.2,4.9,4.2,3.5,3.9,4.6,5.0,3.7,4.3,4.3,5.0,3.3,3.7,4.7,5.1,3.8,4.5,4.0,4.8,6.5,3.7,5.4]
scalebar_end = [4.3,4.25,3.6,4.3,3.7,3.7,3.3,3.7,3.5,3.4,3.6,3.5,4.3,3.4,3.5,3.4,3.4,3.3,4.3,4.3,3.5,4.2,2.9,2.5,3.0,2.9]

# waveform templates (mean spike shapes) and per-panel spreads
wf_t = [0,1,2,3,4,5,6,7,8,9,10,11,12,13,14,15,16,17,18,19,20]
wf_sharp = [0.0,0.01,0.0,0.02,0.01,0.03,0.04,0.05,0.12,-1.0,0.9,0.55,0.38,0.27,0.2,0.15,0.11,0.08,0.06,0.04,0.03]
wf_broad = [0.1,0.15,0.08,0.12,0.05,0.1,0.0,-0.05,-0.2,-0.75,-0.15,0.35,0.22,0.12,0.05,0.0,-0.08,-0.12,-0.05,-0.18,-0.12]
wf_top_kind = "sssss" + "b" + "s" * 20
wf_bot_kind = "ssssbb" + "sbsbsbsbsbsbsb" + "ssbbss"
wf_top_sd = [0.3,0.45,0.12,0.45,0.08,0.6,0.08,0.3,0.3,0.15,0.15,0.3,0.25,0.25,0.25,0.25,0.25,0.2,0.2,0.25,0.2,0.2,0.3,0.2,0.5,0.45]
wf_bot_sd = [0.35,0.5,0.45,0.15,0.6,0.6,0.2,0.65,0.2,0.55,0.2,0.55,0.25,0.6,0.25,0.55,0.25,0.6,0.2,0.6,0.2,0.35,0.7,0.4,0.45,0.45]

# ---------------- build ----------------
CCG = {l: (globals()["ccg_" + l], globals()["null_" + l]) for l in panel_labels}
RFX = {l: globals()["rfx_" + l] for l in panel_labels}
RFD = {l: globals()["rfd_" + l] for l in panel_labels}
WF = {"s": wf_sharp, "b": wf_broad}

FONT = "Liberation Sans, Arial, sans-serif"
FRAME = "#8c8c8c"
DARK = {"b": "rgb(25,25,205)", "r": "rgb(215,25,25)"}
LIGHT = {"b": "rgb(100,100,235)", "r": "rgb(238,90,90)"}
BAND = {"b": "rgb(122,122,242)", "r": "rgb(246,122,122)"}
WLINE = {"b": "rgb(35,35,200)", "r": "rgb(205,30,30)"}

COLS = [(27, 105, 110, 186, 189, 222), (264, 345, 349, 425, 429, 461), (508, 584, 588, 664, 667, 702)]
ROW_TOP0, ROW_STEP, BOX_H = 10, 116.3, 77
LETTER_X = [0, 236, 480]

fig = go.Figure()
layout = {}
shapes = []
annots = []
counter = [0]


def add_axes(x0, x1, y0, y1, xr, yr, kind, yt=None):
    counter[0] += 1
    k = counter[0]
    s = "" if k == 1 else str(k)
    xa = dict(domain=[x0 / W, x1 / W], range=xr, anchor="y" + s, showgrid=False, zeroline=False,
              fixedrange=True)
    ya = dict(domain=[1 - y1 / H, 1 - y0 / H], range=yr, anchor="x" + s, showgrid=False, zeroline=False,
              fixedrange=True)
    if kind == "wf":
        xa["visible"] = False
        ya["visible"] = False
    else:
        for a in (xa, ya):
            a.update(showline=True, mirror=True, linecolor=FRAME, linewidth=1)
        if kind == "ccg":
            xa.update(tickvals=[-10, 0, 10], ticktext=["-10", "0", "10"], ticks="inside", ticklen=2,
                      tickcolor=FRAME, tickfont=dict(size=10, color="#111", family=FONT))
            ya.update(tickvals=yt, ticktext=[str(v) for v in yt], ticks="inside", ticklen=2,
                      tickcolor=FRAME, tickfont=dict(size=10, color="#111", family=FONT))
        else:
            xa.update(showticklabels=False, ticks="")
            ya.update(showticklabels=False, ticks="")
    layout["xaxis" + s] = xa
    layout["yaxis" + s] = ya
    return "x" + s, "y" + s


def ann(text, px, py, size=10, xanchor="left", yanchor="middle", angle=0, color="#111"):
    annots.append(dict(text=text, x=px / W, y=1 - py / H, xref="paper", yref="paper", showarrow=False,
                       xanchor=xanchor, yanchor=yanchor, textangle=angle, borderpad=0,
                       font=dict(size=size, family=FONT, color=color)))


def line(xr, yr, xs, ys, color, width, dash=None):
    fig.add_trace(go.Scatter(x=xs, y=ys, xaxis=xr, yaxis=yr, mode="lines",
                             line=dict(color=color, width=width, dash=dash),
                             hoverinfo="skip", showlegend=False))


for i, lab in enumerate(panel_labels):
    r, c = divmod(i, 3)
    top = ROW_TOP0 + ROW_STEP * r
    bot = top + BOX_H
    cx0, cx1, rx0, rx1, wx0, wx1 = COLS[c]

    # ---- cross-correlogram ----
    xr, yr = add_axes(cx0, cx1, top, bot, [-10, 10], [y_lo[i], y_hi[i]], "ccg", y_ticks[i])
    ccg, nul = CCG[lab]
    for lvl in hline_levels[i]:
        shapes.append(dict(type="line", xref=xr + " domain", yref=yr, x0=0, x1=1, y0=lvl, y1=lvl,
                           line=dict(color="#222" if i >= 21 else "#9a9a9a", width=0.9, dash="3px,2px")))
    line(xr, yr, lag_ms[:len(nul)], nul, "#777777", 0.9)
    line(xr, yr, lag_ms[:len(ccg)], ccg, "#000000", 1.6)
    shapes.append(dict(type="line", xref=xr, yref=yr + " domain", x0=0, x1=0, y0=0, y1=1,
                       line=dict(color="#333", width=0.8, dash="3px,2px")))
    ann("<b>%s</b>" % lab, LETTER_X[c], top - 12, size=13.5, yanchor="top", color="#000")
    ann(pct_top[i], cx0 + 3, top + 9, size=10)
    ann(pct_bot[i], cx0 + 3, top + 18.5, size=10)
    ann("spk/s", cx0 - 21, top + 36, size=10, xanchor="center", angle=-90)
    ann("ms", (cx0 + cx1) / 2, bot + 21, size=10, xanchor="center")

    # ---- receptive fields ----
    xr2, yr2 = add_axes(rx0, rx1, top, bot, [0, 10], [0, 10], "rf")
    cx_c, cd_c = cell_x_col[i], cell_d_col[i]
    for cell, xs, ys in blobs.get(lab, []):
        col = cx_c if cell == "x" else cd_c
        line(xr2, yr2, xs + xs[:1], ys + ys[:1], LIGHT[col] if cell == "x" else DARK[col], 0.8)
    rx = RFX[lab]
    if rx[0]:
        line(xr2, yr2, rx[0] + rx[0][:1], rx[1] + rx[1][:1], LIGHT[cx_c], 0.8)
    rd = RFD[lab]
    line(xr2, yr2, rd[0] + rd[0][:1], rd[1] + rd[1][:1], DARK[cd_c], 1.1)
    for cell, sx, sy in specks.get(lab, []):
        col = cx_c if cell == "x" else cd_c
        fig.add_trace(go.Scatter(x=[sx], y=[sy], xaxis=xr2, yaxis=yr2, mode="markers",
                                 marker=dict(size=2.5, color=DARK[col]), hoverinfo="skip", showlegend=False))
    fig.add_trace(go.Scatter(x=[mkd_x[i]], y=[mkd_y[i]], xaxis=xr2, yaxis=yr2, mode="markers",
                             marker=dict(symbol="circle", size=5.5, color=DARK[cd_c]),
                             hoverinfo="skip", showlegend=False))
    fig.add_trace(go.Scatter(x=[mkx_x[i]], y=[mkx_y[i]], xaxis=xr2, yaxis=yr2, mode="markers",
                             marker=dict(symbol="x", size=5.5, color=DARK[cx_c], line=dict(width=0)),
                             hoverinfo="skip", showlegend=False))
    line(xr2, yr2, [0.35, scalebar_end[i]], [0.35, 0.35], "#000", 2)
    ann(rf_pct[i], rx1 - 3, top + 8, size=10, xanchor="right")

    # ---- waveforms ----
    for (y0, y1, kind, sd, col) in ((top, top + 0.41 * BOX_H, wf_top_kind[i], wf_top_sd[i], cd_c),
                                    (top + 0.5 * BOX_H, bot, wf_bot_kind[i], wf_bot_sd[i], cx_c)):
        xw, yw = add_axes(wx0, wx1, y0, y1, [0, 20], [-1.12, 1.12], "wf")
        m = WF[kind]
        upper = [v + sd for v in m]
        lower = [v - sd for v in m]
        fig.add_trace(go.Scatter(x=wf_t + wf_t[::-1], y=upper + lower[::-1], xaxis=xw, yaxis=yw,
                                 mode="lines", fill="toself", fillcolor=BAND[col], line=dict(width=0),
                                 hoverinfo="skip", showlegend=False))
        line(xw, yw, wf_t, m, WLINE[col], 1)

fig.update_layout(width=W, height=H, margin=dict(l=0, r=0, t=0, b=0), paper_bgcolor="white",
                  plot_bgcolor="white", showlegend=False, shapes=shapes, annotations=annots,
                  font=dict(family=FONT), **layout)
fig.write_html("out.html")
